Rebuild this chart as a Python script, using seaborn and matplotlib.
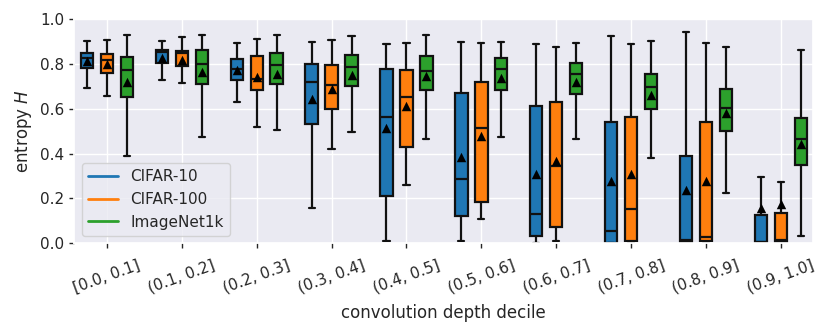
import matplotlib
matplotlib.use("Agg")
import numpy as np
import pandas as pd
import seaborn as sns
import matplotlib.pyplot as plt
from matplotlib.lines import Line2D

deciles = ["[0.0, 0.1]", "(0.1, 0.2]", "(0.2, 0.3]", "(0.3, 0.4]", "(0.4, 0.5]",
           "(0.5, 0.6]", "(0.6, 0.7]", "(0.7, 0.8]", "(0.8, 0.9]", "(0.9, 1.0]"]
datasets = ["CIFAR-10", "CIFAR-100", "ImageNet1k"]
colors = ["#1f77b4", "#ff7f0e", "#2ca02c"]

# CIFAR-10
c10_low = [0.694, 0.729, 0.632, 0.159, 0.012, 0.012, 0.003, 0.0, 0.0, 0.0]
c10_q1 = [0.781, 0.803, 0.729, 0.530, 0.212, 0.122, 0.032, 0.003, 0.006, 0.004]
c10_med = [0.828, 0.852, 0.776, 0.719, 0.565, 0.285, 0.131, 0.055, 0.013, 0.006]
c10_q3 = [0.849, 0.862, 0.821, 0.801, 0.779, 0.669, 0.612, 0.543, 0.388, 0.128]
c10_high = [0.902, 0.900, 0.894, 0.896, 0.890, 0.897, 0.889, 0.922, 0.940, 0.294]
c10_mean = [0.812, 0.825, 0.773, 0.645, 0.512, 0.385, 0.311, 0.276, 0.238, 0.158]

# CIFAR-100
c100_low = [0.657, 0.713, 0.517, 0.422, 0.261, 0.109, 0.012, 0.004, 0.003, 0.0]
c100_q1 = [0.759, 0.791, 0.682, 0.599, 0.428, 0.186, 0.071, 0.010, 0.010, 0.008]
c100_med = [0.815, 0.850, 0.731, 0.707, 0.651, 0.514, 0.344, 0.151, 0.028, 0.013]
c100_q3 = [0.843, 0.859, 0.834, 0.796, 0.772, 0.719, 0.629, 0.562, 0.540, 0.136]
c100_high = [0.906, 0.918, 0.911, 0.905, 0.891, 0.893, 0.875, 0.889, 0.894, 0.272]
c100_mean = [0.800, 0.816, 0.741, 0.689, 0.614, 0.478, 0.365, 0.308, 0.276, 0.176]

# ImageNet1k
in_low = [0.387, 0.475, 0.503, 0.494, 0.463, 0.474, 0.466, 0.381, 0.223, 0.031]
in_q1 = [0.652, 0.708, 0.708, 0.700, 0.683, 0.682, 0.667, 0.600, 0.500, 0.347]
in_med = [0.772, 0.800, 0.794, 0.788, 0.768, 0.776, 0.753, 0.697, 0.604, 0.463]
in_q3 = [0.832, 0.862, 0.847, 0.838, 0.835, 0.825, 0.803, 0.754, 0.688, 0.558]
in_high = [0.928, 0.928, 0.927, 0.925, 0.927, 0.899, 0.893, 0.900, 0.877, 0.861]
in_mean = [0.720, 0.765, 0.757, 0.751, 0.744, 0.737, 0.719, 0.660, 0.580, 0.444]

stats = {
    "CIFAR-10": (c10_low, c10_q1, c10_med, c10_q3, c10_high, c10_mean),
    "CIFAR-100": (c100_low, c100_q1, c100_med, c100_q3, c100_high, c100_mean),
    "ImageNet1k": (in_low, in_q1, in_med, in_q3, in_high, in_mean),
}

rows, mean_rows = [], []
for ds in datasets:
    lo, q1, md, q3, hi, mn = stats[ds]
    for i, dec in enumerate(deciles):
        for v in (lo[i], q1[i], md[i], q3[i], hi[i]):
            rows.append({"decile": dec, "dataset": ds, "H": v})
        mean_rows.append({"decile": dec, "dataset": ds, "H": mn[i]})
df = pd.DataFrame(rows)
df_mean = pd.DataFrame(mean_rows)

sns.set_theme(style="darkgrid")

fig = plt.figure(figsize=(8.31, 3.33), dpi=100)
ax = fig.add_axes([74 / 831, 1 - 243.3 / 333, 739 / 831, 224.3 / 333])

sns.boxplot(data=df, x="decile", y="H", hue="dataset", order=deciles,
            hue_order=datasets, palette=colors, saturation=1, width=0.8,
            gap=0.38, whis=(0, 100), showfliers=False, linecolor="#111111",
            linewidth=1.6, legend=False, ax=ax)
sns.stripplot(data=df_mean, x="decile", y="H", hue="dataset", order=deciles,
              hue_order=datasets, palette=["black"] * 3, dodge=True,
              jitter=False, marker="^", size=6.8, legend=False, zorder=5, ax=ax)

ax.set_xlim(-0.44, 9.43)
ax.set_ylim(0, 1.0)
ax.set_yticks([0, 0.2, 0.4, 0.6, 0.8, 1.0])
ax.set_axisbelow(True)
ax.grid(True, axis="both", color="white", linewidth=1)
ax.set_xlabel("convolution depth decile", fontsize=12, labelpad=6)
ax.set_ylabel("entropy $H$", fontsize=12)
ax.tick_params(axis="x", labelsize=11, rotation=20, bottom=True, length=3.5,
               width=1, color=".15", pad=7)
ax.tick_params(axis="y", labelsize=11, left=True, length=3.5, width=1,
               color=".15")

handles = [Line2D([0], [0], color=c, lw=2) for c in colors]
ax.legend(handles, datasets, loc="lower left", fontsize=11)

fig.savefig("out.png", dpi=100)
